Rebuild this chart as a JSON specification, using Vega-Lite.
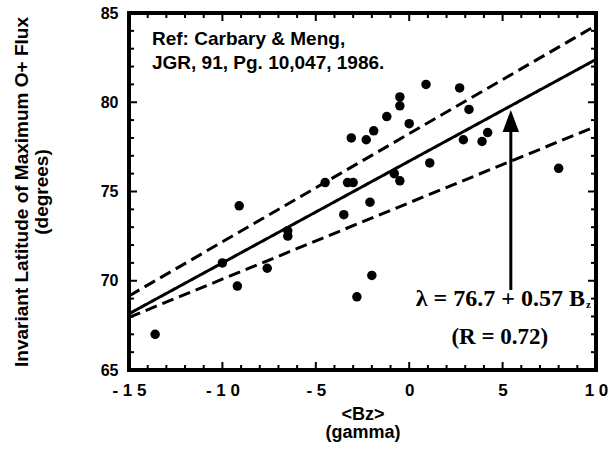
{
  "$schema": "https://vega.github.io/schema/vega-lite/v6.json",
  "width": 467,
  "height": 357,
  "autosize": {"type": "none"},
  "padding": {"left": 129, "top": 13, "right": 13, "bottom": 79},
  "background": "white",
  "config": {
    "view": {"stroke": "black", "strokeWidth": 4},
    "font": "Liberation Sans"
  },
  "datasets": {
    "points": [
      {"Bz": -13.6, "lat": 67.0}, {"Bz": -10.0, "lat": 71.0}, {"Bz": -9.1, "lat": 74.2},
      {"Bz": -9.2, "lat": 69.7}, {"Bz": -7.6, "lat": 70.7}, {"Bz": -6.5, "lat": 72.8},
      {"Bz": -6.5, "lat": 72.5}, {"Bz": -4.5, "lat": 75.5}, {"Bz": -3.5, "lat": 73.7},
      {"Bz": -3.3, "lat": 75.5}, {"Bz": -3.0, "lat": 75.5}, {"Bz": -3.1, "lat": 78.0},
      {"Bz": -2.8, "lat": 69.1}, {"Bz": -2.3, "lat": 77.9}, {"Bz": -2.1, "lat": 74.4},
      {"Bz": -2.0, "lat": 70.3}, {"Bz": -1.9, "lat": 78.4}, {"Bz": -1.2, "lat": 79.2},
      {"Bz": -0.8, "lat": 76.0}, {"Bz": -0.5, "lat": 80.3}, {"Bz": -0.5, "lat": 79.8},
      {"Bz": -0.5, "lat": 75.6}, {"Bz": 0.0, "lat": 78.8}, {"Bz": 0.9, "lat": 81.0},
      {"Bz": 1.1, "lat": 76.6}, {"Bz": 2.7, "lat": 80.8}, {"Bz": 2.9, "lat": 77.9},
      {"Bz": 3.2, "lat": 79.6}, {"Bz": 3.9, "lat": 77.8}, {"Bz": 4.2, "lat": 78.3},
      {"Bz": 8.0, "lat": 76.3}
    ],
    "lines": [
      {"series": "fit", "Bz": -15, "lat": 68.15}, {"series": "fit", "Bz": 10, "lat": 82.4},
      {"series": "upper", "Bz": -15, "lat": 69.15}, {"series": "upper", "Bz": 10, "lat": 84.3},
      {"series": "lower", "Bz": -15, "lat": 67.95}, {"series": "lower", "Bz": 10, "lat": 78.65}
    ],
    "xticks": [
      {"v": -15, "major": true}, {"v": -14, "major": false}, {"v": -13, "major": false}, {"v": -12, "major": false}, {"v": -11, "major": false},
      {"v": -10, "major": true}, {"v": -9, "major": false}, {"v": -8, "major": false}, {"v": -7, "major": false}, {"v": -6, "major": false},
      {"v": -5, "major": true}, {"v": -4, "major": false}, {"v": -3, "major": false}, {"v": -2, "major": false}, {"v": -1, "major": false},
      {"v": 0, "major": true}, {"v": 1, "major": false}, {"v": 2, "major": false}, {"v": 3, "major": false}, {"v": 4, "major": false},
      {"v": 5, "major": true}, {"v": 6, "major": false}, {"v": 7, "major": false}, {"v": 8, "major": false}, {"v": 9, "major": false},
      {"v": 10, "major": true}
    ],
    "yticks": [
      {"v": 65, "major": true}, {"v": 66, "major": false}, {"v": 67, "major": false}, {"v": 68, "major": false}, {"v": 69, "major": false},
      {"v": 70, "major": true}, {"v": 71, "major": false}, {"v": 72, "major": false}, {"v": 73, "major": false}, {"v": 74, "major": false},
      {"v": 75, "major": true}, {"v": 76, "major": false}, {"v": 77, "major": false}, {"v": 78, "major": false}, {"v": 79, "major": false},
      {"v": 80, "major": true}, {"v": 81, "major": false}, {"v": 82, "major": false}, {"v": 83, "major": false}, {"v": 84, "major": false},
      {"v": 85, "major": true}
    ],
    "arrow": [{"Bz": 5.44, "lat": 69.48, "lat2": 78.6, "tip": 79.57}],
    "labels": [
      {"Bz": -13.77, "lat": 83.21, "text": "Ref:  Carbary & Meng,"},
      {"Bz": -13.77, "lat": 81.85, "text": "JGR, 91, Pg. 10,047, 1986."}
    ],
    "eq": [
      {"Bz": 9.41, "lat": 68.59, "text": "λ = 76.7 + 0.57 B"}
    ],
    "sub": [
      {"Bz": 9.46, "lat": 68.47, "text": "z"}
    ],
    "rr": [
      {"Bz": 4.85, "lat": 66.46, "text": "(R = 0.72)"}
    ]
  },
  "layer": [
    {
      "data": {"name": "points"},
      "mark": {"type": "circle", "color": "black", "opacity": 1, "size": 90},
      "encoding": {
        "x": {
          "field": "Bz", "type": "quantitative",
          "scale": {"domain": [-15, 10], "nice": false, "zero": false},
          "axis": {
            "orient": "bottom", "values": [-15, -10, -5, 0, 5, 10],
            "labelExpr": "datum.value === -15 ? '- 1 5' : datum.value === -10 ? '- 1 0' : datum.value === -5 ? '- 5' : datum.value === 10 ? '1 0' : datum.label",
            "labelFont": "Liberation Sans", "labelFontWeight": "bold", "labelFontSize": 17, "labelColor": "black",
            "labelPadding": 12, "labelFlush": false, "labelOverlap": false,
            "title": ["<Bz>", "(gamma)"], "titleFont": "Liberation Sans", "titleFontWeight": "bold", "titleFontSize": 18,
            "titleColor": "black", "titleLineHeight": 18, "titlePadding": 7,
            "domain": false, "grid": false, "ticks": false, "tickSize": 0
          }
        },
        "y": {
          "field": "lat", "type": "quantitative",
          "scale": {"domain": [65, 85], "nice": false, "zero": false},
          "axis": {
            "orient": "left", "values": [65, 70, 75, 80, 85],
            "labelFont": "Liberation Sans", "labelFontWeight": "bold", "labelFontSize": 16, "labelColor": "black",
            "labelPadding": 11, "labelFlush": false, "labelOverlap": false,
            "title": ["Invariant Latitude of Maximum O+ Flux", "(degrees)"],
            "titleFont": "Liberation Sans", "titleFontWeight": "bold", "titleFontSize": 19,
            "titleColor": "black", "titleLineHeight": 20, "titlePadding": 49,
            "domain": false, "grid": false, "ticks": false, "tickSize": 0
          }
        }
      }
    },
    {
      "data": {"name": "lines"},
      "mark": {"type": "line", "color": "black", "strokeWidth": 3, "clip": true},
      "encoding": {
        "x": {"field": "Bz", "type": "quantitative"},
        "y": {"field": "lat", "type": "quantitative"},
        "detail": {"field": "series"},
        "strokeDash": {
          "field": "series", "type": "nominal",
          "scale": {"domain": ["fit", "upper", "lower"], "range": [[1, 0], [12, 6], [12, 6]]},
          "legend": null
        }
      }
    },
    {
      "data": {"name": "xticks"},
      "mark": {"type": "tick", "orient": "vertical", "thickness": 2, "color": "black", "opacity": 1, "clip": true},
      "encoding": {
        "x": {"field": "v", "type": "quantitative"},
        "y": {"datum": 65, "type": "quantitative"},
        "size": {"condition": {"test": "datum.major", "value": 16}, "value": 10}
      }
    },
    {
      "data": {"name": "xticks"},
      "mark": {"type": "tick", "orient": "vertical", "thickness": 2, "color": "black", "opacity": 1, "clip": true},
      "encoding": {
        "x": {"field": "v", "type": "quantitative"},
        "y": {"datum": 85, "type": "quantitative"},
        "size": {"condition": {"test": "datum.major", "value": 16}, "value": 10}
      }
    },
    {
      "data": {"name": "yticks"},
      "mark": {"type": "tick", "orient": "horizontal", "thickness": 2, "color": "black", "opacity": 1, "clip": true},
      "encoding": {
        "y": {"field": "v", "type": "quantitative"},
        "x": {"datum": -15, "type": "quantitative"},
        "size": {"condition": {"test": "datum.major", "value": 16}, "value": 10}
      }
    },
    {
      "data": {"name": "yticks"},
      "mark": {"type": "tick", "orient": "horizontal", "thickness": 2, "color": "black", "opacity": 1, "clip": true},
      "encoding": {
        "y": {"field": "v", "type": "quantitative"},
        "x": {"datum": 10, "type": "quantitative"},
        "size": {"condition": {"test": "datum.major", "value": 16}, "value": 10}
      }
    },
    {
      "data": {"name": "arrow"},
      "mark": {"type": "rule", "color": "black", "strokeWidth": 3},
      "encoding": {
        "x": {"field": "Bz", "type": "quantitative"},
        "y": {"field": "lat", "type": "quantitative"},
        "y2": {"field": "lat2"}
      }
    },
    {
      "data": {"name": "arrow"},
      "mark": {"type": "point", "shape": "M0,0L-0.75,2L0.75,2Z", "filled": true, "color": "black", "opacity": 1, "size": 484},
      "encoding": {
        "x": {"field": "Bz", "type": "quantitative"},
        "y": {"field": "tip", "type": "quantitative"}
      }
    },
    {
      "data": {"name": "labels"},
      "mark": {"type": "text", "align": "left", "baseline": "alphabetic", "font": "Liberation Sans", "fontWeight": "bold", "fontSize": 19, "color": "black"},
      "encoding": {
        "x": {"field": "Bz", "type": "quantitative"},
        "y": {"field": "lat", "type": "quantitative"},
        "text": {"field": "text"}
      }
    },
    {
      "data": {"name": "eq"},
      "mark": {"type": "text", "align": "right", "baseline": "alphabetic", "font": "Liberation Serif", "fontWeight": "bold", "fontSize": 24, "color": "black"},
      "encoding": {
        "x": {"field": "Bz", "type": "quantitative"},
        "y": {"field": "lat", "type": "quantitative"},
        "text": {"field": "text"}
      }
    },
    {
      "data": {"name": "sub"},
      "mark": {"type": "text", "align": "left", "baseline": "alphabetic", "font": "Liberation Serif", "fontWeight": "bold", "fontSize": 11, "color": "black"},
      "encoding": {
        "x": {"field": "Bz", "type": "quantitative"},
        "y": {"field": "lat", "type": "quantitative"},
        "text": {"field": "text"}
      }
    },
    {
      "data": {"name": "rr"},
      "mark": {"type": "text", "align": "center", "baseline": "alphabetic", "font": "Liberation Serif", "fontWeight": "bold", "fontSize": 23, "color": "black"},
      "encoding": {
        "x": {"field": "Bz", "type": "quantitative"},
        "y": {"field": "lat", "type": "quantitative"},
        "text": {"field": "text"}
      }
    }
  ]
}
